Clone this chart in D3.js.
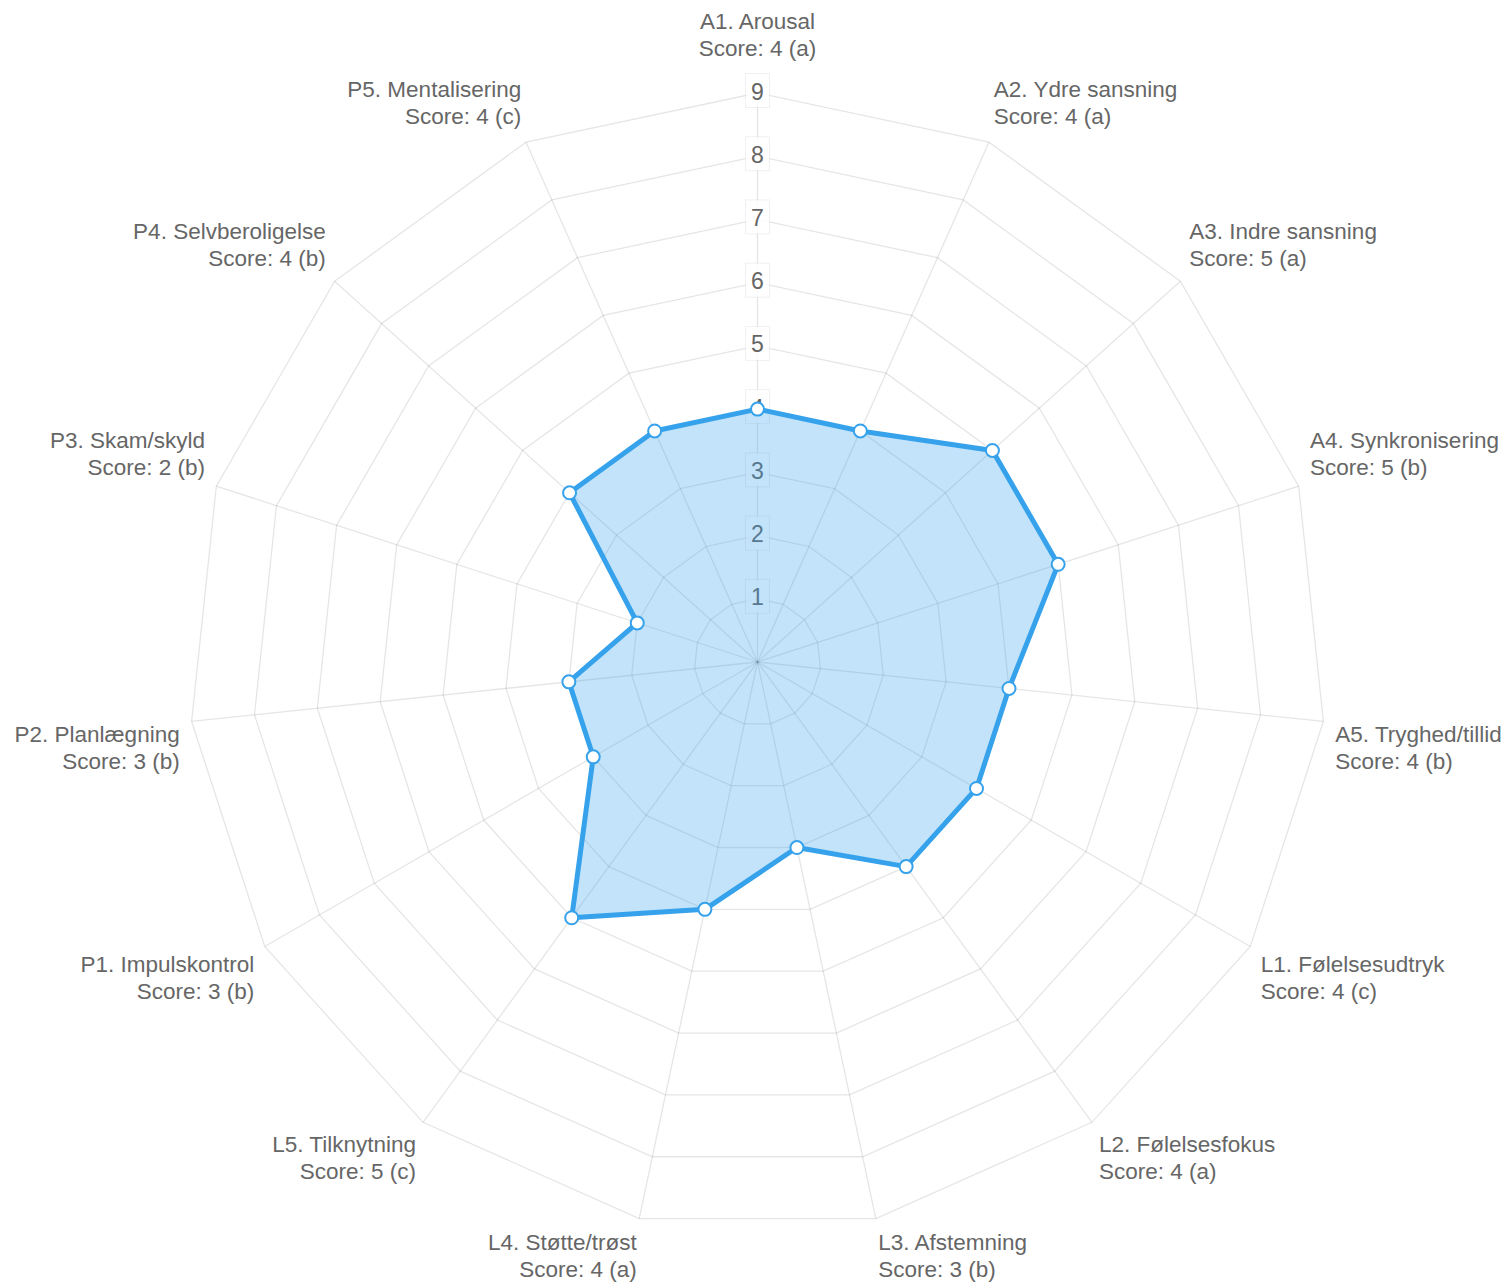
<!DOCTYPE html>
<html>
<head>
  <title>Radar chart</title>
  <script src="https://d3js.org/d3.v7.min.js"></script>
  <style>
    body { margin: 0; background: #fff; font-family: "Liberation Sans", Arial, sans-serif; }
    .grid { fill: none; stroke: rgba(0,0,0,0.1); stroke-width: 1.3; }
    .angle { stroke: rgba(0,0,0,0.1); stroke-width: 1.3; }
    .tick-bg { fill: rgba(255,255,255,0.85); stroke: rgba(0,0,0,0.06); stroke-width: 1; }
    .tick-label { fill: #666; font-size: 23px; text-anchor: middle; dominant-baseline: central; }
    .point-label { fill: #666; font-size: 22.5px; }
  </style>
</head>
<body>
  <div id="chart"></div>
  <script>
    // chart values
    const labels = [
      "A1. Arousal", "A2. Ydre sansning", "A3. Indre sansning", "A4. Synkronisering", "A5. Tryghed/tillid",
      "L1. Følelsesudtryk", "L2. Følelsesfokus", "L3. Afstemning", "L4. Støtte/trøst", "L5. Tilknytning",
      "P1. Impulskontrol", "P2. Planlægning", "P3. Skam/skyld", "P4. Selvberoligelse", "P5. Mentalisering"
    ];
    const scores = [4, 4, 5, 5, 4, 4, 4, 3, 4, 5, 3, 3, 2, 4, 4];
    const levels = ["a", "a", "a", "b", "b", "c", "a", "b", "a", "c", "b", "b", "b", "b", "c"];
    const tickValues = [1, 2, 3, 4, 5, 6, 7, 8, 9];

    function renderRadar(selection) {
      const width = 1506, height = 1283;
      const cx = 757.5, cy = 662, R = 569;
      const lineH = 27;

      const svg = selection.append("svg")
        .attr("width", width)
        .attr("height", height);

      const g = svg.append("g").attr("transform", `translate(${cx},${cy})`);

      const r = d3.scaleLinear().domain([0, 9]).range([0, R]);
      const angle = d3.scaleLinear().domain([0, labels.length]).range([0, 2 * Math.PI]);

      const pos = (i, dist) => [dist * Math.sin(angle(i)), -dist * Math.cos(angle(i))];

      // polygon grid
      g.selectAll(".grid")
        .data(tickValues)
        .enter().append("polygon")
        .attr("class", "grid")
        .attr("points", v => labels.map((_, i) => pos(i, r(v)).join(",")).join(" "));

      // angle lines
      g.selectAll(".angle")
        .data(labels)
        .enter().append("line")
        .attr("class", "angle")
        .attr("x1", 0).attr("y1", 0)
        .attr("x2", (d, i) => pos(i, r(9))[0])
        .attr("y2", (d, i) => pos(i, r(9))[1]);

      // tick labels with backdrop
      const ticks = g.selectAll(".tick")
        .data(tickValues)
        .enter().append("g")
        .attr("class", "tick")
        .attr("transform", v => `translate(0,${-r(v) - 2.5})`);
      ticks.append("rect")
        .attr("class", "tick-bg")
        .attr("x", -12).attr("y", -17)
        .attr("width", 24).attr("height", 34);
      ticks.append("text")
        .attr("class", "tick-label")
        .attr("y", 1)
        .text(v => v);

      // point labels
      labels.forEach((name, i) => {
        const deg = Math.round(angle(i) * 180 / Math.PI);
        const dist = i === 0 ? R + 32 : R + 12;
        const [x, y] = pos(i, dist);
        const h = lineH * 2;
        let anchor = "start";
        if (deg === 0 || deg === 180) anchor = "middle";
        else if (deg > 180) anchor = "end";
        let top = i === 0 ? y : y - 2;
        if (deg === 90 || deg === 270) top -= h / 2;
        else if (deg > 270 || deg < 90) top -= h;
        const t = g.append("text")
          .attr("class", "point-label")
          .attr("text-anchor", anchor)
          .attr("dominant-baseline", "central");
        t.append("tspan").attr("x", x).attr("y", top + lineH / 2).text(name);
        t.append("tspan").attr("x", x).attr("y", top + lineH * 1.5)
          .text(`Score: ${scores[i]} (${levels[i]})`);
      });

      // dataset
      const line = d3.lineRadial()
        .angle((d, i) => angle(i))
        .radius(d => r(d))
        .curve(d3.curveLinearClosed);

      g.append("path")
        .datum(scores)
        .attr("d", line)
        .attr("fill", "rgba(54,162,235,0.3)")
        .attr("stroke", "rgb(54,162,235)")
        .attr("stroke-width", 5)
        .attr("stroke-linejoin", "round");

      g.selectAll(".pt")
        .data(scores)
        .enter().append("circle")
        .attr("class", "pt")
        .attr("cx", (d, i) => pos(i, r(d))[0])
        .attr("cy", (d, i) => pos(i, r(d))[1])
        .attr("r", 6.5)
        .attr("fill", "#fff")
        .attr("stroke", "rgb(54,162,235)")
        .attr("stroke-width", 2);
    }

    renderRadar(d3.select("#chart"));
  </script>
</body>
</html>
